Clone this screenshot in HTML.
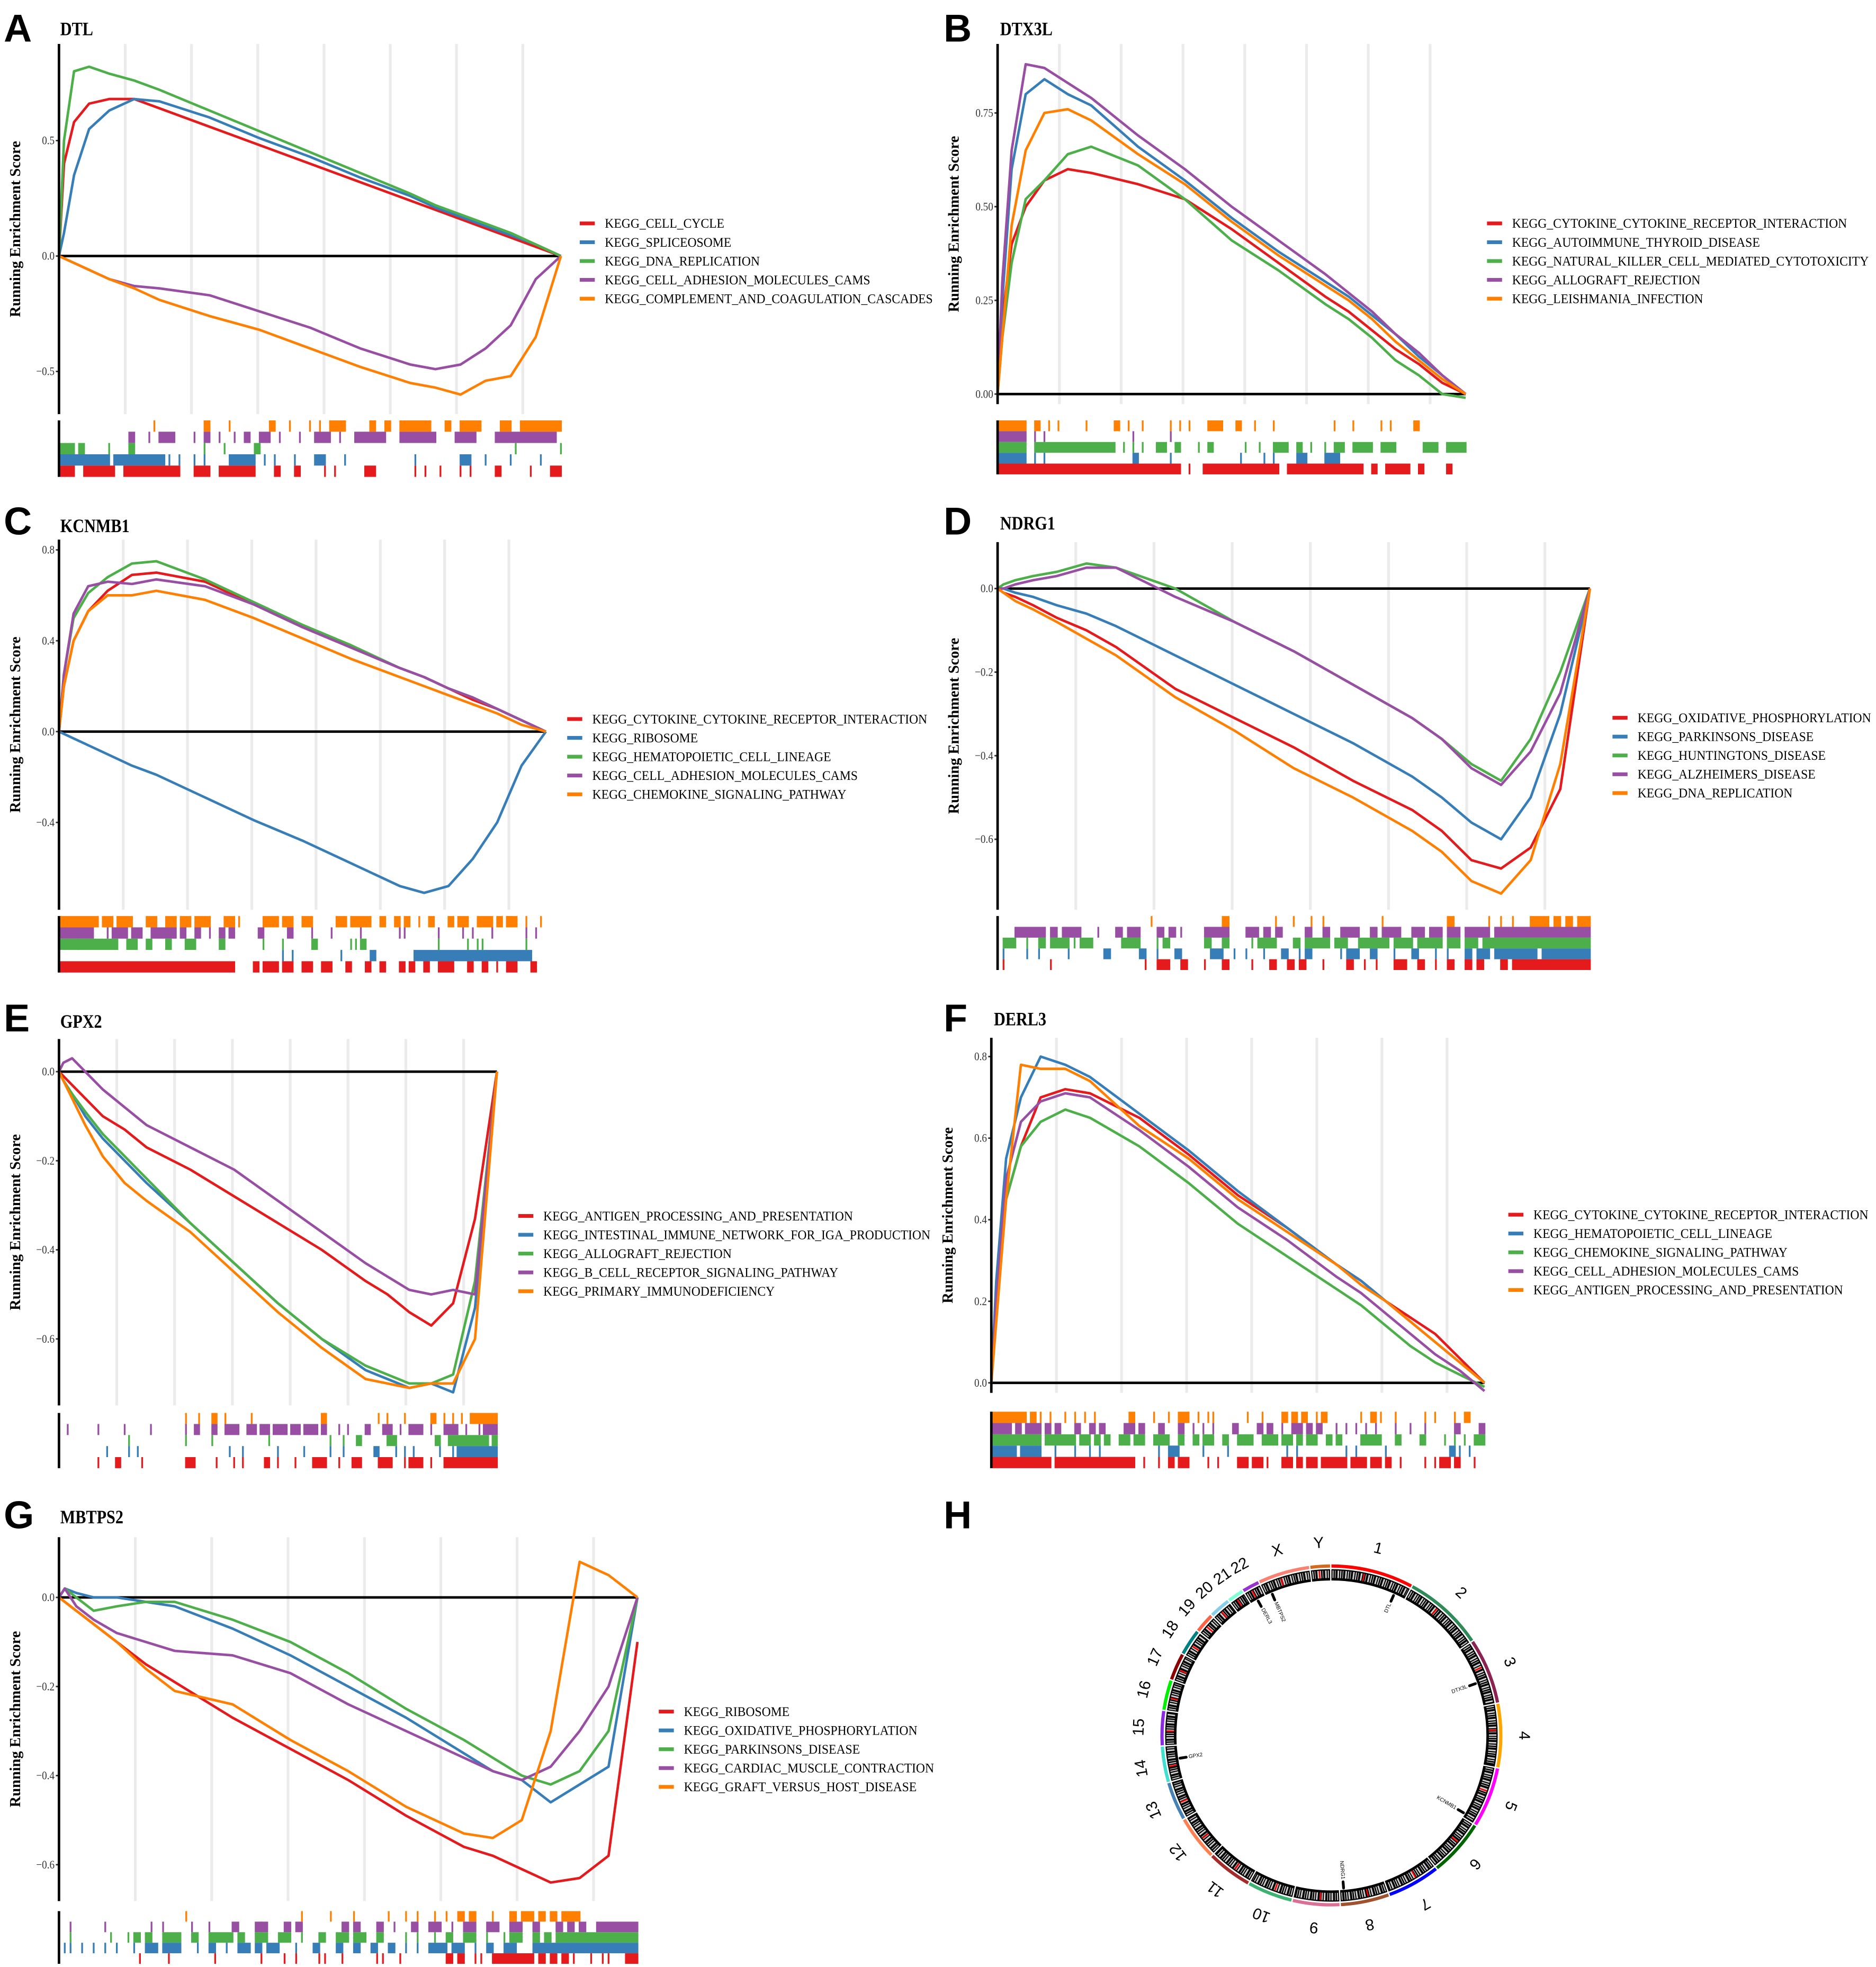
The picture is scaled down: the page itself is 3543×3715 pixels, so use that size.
<!DOCTYPE html>
<html><head><meta charset="utf-8"><title>GSEA panels</title>
<style>html,body{margin:0;padding:0;background:#fff}svg{display:block}</style></head>
<body>
<svg id="fig" xmlns="http://www.w3.org/2000/svg" width="3543" height="3715" viewBox="0 0 1495 1567.5">
<rect x="0" y="0" width="1495" height="1567.5" fill="#fff"/>
</svg>
<script>
const X_GRID=[0,.01,.03,.06,.1,.15,.2,.3,.4,.5,.6,.7,.75,.8,.85,.9,.95,1];
const COLORS=['#E41A1C','#377EB8','#4DAF4A','#984EA3','#FF7F00'];

// ---- Panel A: DTL
const A_names=['KEGG_CELL_CYCLE','KEGG_SPLICEOSOME','KEGG_DNA_REPLICATION','KEGG_CELL_ADHESION_MOLECULES_CAMS','KEGG_COMPLEMENT_AND_COAGULATION_CASCADES'];
const A_ticks=[0.5,0,-0.5];
const A_tickLabels=['0.5','0.0','\u22120.5'];
const A_red=[0,0.4,0.58,0.66,0.68,0.68,0.64,0.56,0.48,0.4,0.32,0.24,0.2,0.16,0.12,0.08,0.04,0];
const A_blue=[0,0.1,0.35,0.55,0.63,0.68,0.67,0.6,0.51,0.43,0.34,0.26,0.21,0.17,0.13,0.09,0.05,0];
const A_green=[0,0.5,0.8,0.82,0.79,0.76,0.72,0.63,0.54,0.45,0.36,0.27,0.22,0.18,0.14,0.1,0.05,0];
const A_purple=[0,-0.01,-0.03,-0.06,-0.1,-0.13,-0.14,-0.17,-0.24,-0.31,-0.4,-0.47,-0.49,-0.47,-0.4,-0.3,-0.1,0];
const A_orange=[0,-0.01,-0.03,-0.06,-0.1,-0.14,-0.19,-0.26,-0.32,-0.4,-0.48,-0.55,-0.57,-0.6,-0.54,-0.52,-0.35,0];
const A_rug_orange=[[19,19],[29,30],[34,34],[42,43],[46,46],[50,50],[52,52],[54,57],[62,63],[65,66],[68,74],[77,78],[80,84],[88,90],[92,100]];
const A_rug_purple=[[14,15],[18,18],[20,23],[27,27],[29,30],[32,32],[35,35],[37,38],[40,42],[44,44],[48,48],[51,54],[56,56],[59,65],[68,75],[79,83],[87,99]];
const A_rug_green=[[0,3],[4,5],[10,10],[14,15],[29,29],[33,33],[39,40],[91,91],[100,100]];
const A_rug_blue=[[0,10],[11,21],[22,22],[24,24],[27,27],[29,29],[34,39],[41,41],[43,43],[47,47],[51,53],[57,57],[71,71],[80,82],[85,85],[90,90],[96,96]];
const A_rug_red=[[0,3],[5,11],[13,24],[27,30],[32,39],[43,44],[47,48],[53,53],[55,55],[61,63],[71,71],[73,73],[76,76],[80,80],[82,82],[87,88],[94,94],[98,100]];

// ---- Panel B: DTX3L
const B_names=['KEGG_CYTOKINE_CYTOKINE_RECEPTOR_INTERACTION','KEGG_AUTOIMMUNE_THYROID_DISEASE','KEGG_NATURAL_KILLER_CELL_MEDIATED_CYTOTOXICITY','KEGG_ALLOGRAFT_REJECTION','KEGG_LEISHMANIA_INFECTION'];
const B_ticks=[0.75,0.5,0.25,0];
const B_tickLabels=['0.75','0.50','0.25','0.00'];
const B_red=[0,0.2,0.4,0.5,0.57,0.6,0.59,0.56,0.52,0.44,0.35,0.26,0.22,0.17,0.12,0.08,0.03,0];
const B_blue=[0,0.25,0.6,0.8,0.84,0.8,0.77,0.66,0.57,0.47,0.38,0.3,0.26,0.21,0.16,0.1,0.05,0];
const B_green=[0,0.15,0.35,0.52,0.57,0.64,0.66,0.61,0.52,0.41,0.33,0.24,0.2,0.15,0.09,0.05,0,-0.01];
const B_purple=[0,0.3,0.65,0.88,0.87,0.83,0.79,0.69,0.6,0.5,0.41,0.32,0.27,0.22,0.16,0.11,0.05,0];
const B_orange=[0,0.15,0.45,0.65,0.75,0.76,0.73,0.64,0.56,0.46,0.37,0.29,0.25,0.2,0.14,0.09,0.04,0];
const B_rug_orange=[[0,6],[8,9],[11,11],[13,13],[19,19],[25,26],[28,28],[31,31],[37,37],[39,39],[41,41],[45,48],[51,52],[55,55],[59,59],[72,72],[76,76],[82,82],[84,84],[89,90]];
const B_rug_purple=[[0,6],[8,8],[10,10],[29,29],[37,37]];
const B_rug_green=[[0,6],[8,25],[27,27],[29,29],[31,31],[34,36],[38,39],[43,43],[45,46],[53,53],[56,56],[59,62],[64,65],[67,67],[70,70],[72,74],[76,80],[82,85],[91,94],[96,100]];
const B_rug_blue=[[0,6],[8,8],[10,10],[29,30],[37,37],[52,52],[57,57],[59,59],[64,66],[70,73]];
const B_rug_red=[[0,39],[41,41],[44,60],[62,78],[80,81],[83,88],[90,91],[96,97]];

// ---- Panel C: KCNMB1
const C_names=['KEGG_CYTOKINE_CYTOKINE_RECEPTOR_INTERACTION','KEGG_RIBOSOME','KEGG_HEMATOPOIETIC_CELL_LINEAGE','KEGG_CELL_ADHESION_MOLECULES_CAMS','KEGG_CHEMOKINE_SIGNALING_PATHWAY'];
const C_ticks=[0.8,0.4,0,-0.4];
const C_tickLabels=['0.8','0.4','0.0','\u22120.4'];
const C_red=[0,0.2,0.4,0.53,0.62,0.69,0.7,0.66,0.56,0.46,0.37,0.28,0.24,0.19,0.14,0.1,0.05,0];
const C_blue=[0,-0.01,-0.03,-0.06,-0.1,-0.15,-0.19,-0.29,-0.39,-0.48,-0.58,-0.68,-0.71,-0.68,-0.56,-0.4,-0.15,0];
const C_green=[0,0.25,0.5,0.61,0.68,0.74,0.75,0.67,0.57,0.47,0.38,0.28,0.24,0.19,0.15,0.1,0.05,0];
const C_purple=[0,0.25,0.52,0.64,0.66,0.65,0.67,0.64,0.56,0.46,0.37,0.28,0.24,0.19,0.15,0.1,0.05,0];
const C_orange=[0,0.2,0.4,0.53,0.6,0.6,0.62,0.58,0.5,0.41,0.32,0.24,0.2,0.16,0.12,0.08,0.03,0];
const C_rug_orange=[[0,8],[9,11],[12,15],[18,20],[22,24],[25,27],[28,31],[34,36],[37,37],[42,45],[46,48],[50,52],[57,59],[60,64],[66,67],[69,70],[71,72],[74,74],[76,77],[80,81],[82,84],[86,89],[90,91],[92,94],[96,96],[99,99],[92,93]];
const C_rug_purple=[[0,7],[10,10],[11,14],[15,17],[19,24],[25,26],[28,29],[31,31],[33,34],[35,36],[41,42],[47,48],[52,52],[56,56],[62,62],[70,70],[71,71],[78,78],[83,83],[85,85],[89,89],[96,96],[98,98]];
const C_rug_green=[[0,4],[4,12],[14,16],[18,19],[22,23],[26,28],[33,34],[42,42],[46,46],[52,53],[60,60],[61,61],[62,63],[78,78],[84,84],[86,86],[87,87],[96,96]];
const C_rug_blue=[[46,46],[48,48],[58,58],[64,65],[73,97]];
const C_rug_red=[[0,36],[40,41],[42,45],[46,48],[50,52],[54,56],[59,60],[63,64],[66,67],[70,71],[72,73],[75,76],[78,81],[84,85],[87,88],[90,90],[92,94],[97,98]];

// ---- Panel D: NDRG1
const D_names=['KEGG_OXIDATIVE_PHOSPHORYLATION','KEGG_PARKINSONS_DISEASE','KEGG_HUNTINGTONS_DISEASE','KEGG_ALZHEIMERS_DISEASE','KEGG_DNA_REPLICATION'];
const D_ticks=[0,-0.2,-0.4,-0.6];
const D_tickLabels=['0.0','\u22120.2','\u22120.4','\u22120.6'];
const D_red=[0,-0.01,-0.02,-0.04,-0.07,-0.1,-0.14,-0.24,-0.31,-0.38,-0.46,-0.53,-0.58,-0.65,-0.67,-0.62,-0.48,0];
const D_blue=[0,0,-0.01,-0.02,-0.04,-0.06,-0.09,-0.16,-0.23,-0.3,-0.37,-0.45,-0.5,-0.56,-0.6,-0.5,-0.3,0];
const D_green=[0,0.01,0.02,0.03,0.04,0.06,0.05,0,-0.08,-0.15,-0.23,-0.31,-0.36,-0.42,-0.46,-0.36,-0.2,0];
const D_purple=[0,0,0.01,0.02,0.03,0.05,0.05,-0.02,-0.08,-0.15,-0.23,-0.31,-0.36,-0.43,-0.47,-0.39,-0.25,0];
const D_orange=[0,-0.01,-0.03,-0.05,-0.08,-0.12,-0.16,-0.26,-0.34,-0.43,-0.5,-0.58,-0.63,-0.7,-0.73,-0.65,-0.42,0];
const D_rug_orange=[[26,26],[38,39],[47,47],[50,50],[53,53],[55,55],[65,65],[76,77],[83,83],[85,85],[87,87],[90,93],[94,95],[96,97],[98,100]];
const D_rug_purple=[[0,0],[3,8],[9,10],[11,14],[17,17],[20,21],[22,24],[27,28],[29,30],[31,31],[35,39],[42,44],[45,46],[47,48],[52,53],[55,56],[58,61],[63,64],[65,68],[70,72],[73,75],[76,78],[79,83],[84,100]];
const D_rug_green=[[1,3],[5,5],[7,8],[9,12],[13,13],[14,16],[21,24],[27,27],[28,29],[35,36],[38,39],[43,43],[44,47],[50,51],[52,56],[57,59],[61,66],[67,70],[71,75],[76,78],[79,81],[82,100]];
const D_rug_blue=[[1,1],[5,5],[7,7],[12,12],[18,19],[24,25],[27,27],[30,31],[36,38],[40,40],[42,42],[45,45],[48,49],[51,51],[52,53],[58,58],[59,61],[63,64],[67,67],[70,71],[74,74],[76,76],[79,80],[81,83],[84,91],[92,100]];
const D_rug_red=[[1,1],[9,9],[25,25],[27,29],[31,32],[35,35],[38,39],[43,43],[46,47],[49,50],[51,52],[55,55],[59,60],[62,62],[64,64],[67,69],[71,72],[74,74],[76,77],[79,80],[81,82],[85,86],[87,100]];

// ---- Panel E: GPX2
const E_names=['KEGG_ANTIGEN_PROCESSING_AND_PRESENTATION','KEGG_INTESTINAL_IMMUNE_NETWORK_FOR_IGA_PRODUCTION','KEGG_ALLOGRAFT_REJECTION','KEGG_B_CELL_RECEPTOR_SIGNALING_PATHWAY','KEGG_PRIMARY_IMMUNODEFICIENCY'];
const E_ticks=[0,-0.2,-0.4,-0.6];
const E_tickLabels=['0.0','\u22120.2','\u22120.4','\u22120.6'];
const E_red=[0,-0.01,-0.03,-0.06,-0.1,-0.13,-0.17,-0.22,-0.28,-0.34,-0.4,-0.47,-0.5,-0.54,-0.57,-0.52,-0.33,0];
const E_blue=[0,-0.02,-0.05,-0.1,-0.15,-0.2,-0.25,-0.34,-0.43,-0.52,-0.6,-0.67,-0.69,-0.71,-0.7,-0.72,-0.53,0];
const E_green=[0,-0.02,-0.05,-0.09,-0.14,-0.19,-0.24,-0.34,-0.43,-0.52,-0.6,-0.66,-0.68,-0.7,-0.7,-0.68,-0.47,0];
const E_purple=[0,0.02,0.03,0,-0.04,-0.08,-0.12,-0.17,-0.22,-0.29,-0.36,-0.43,-0.46,-0.49,-0.5,-0.49,-0.5,0];
const E_orange=[0,-0.02,-0.06,-0.12,-0.19,-0.25,-0.29,-0.36,-0.45,-0.54,-0.62,-0.69,-0.7,-0.71,-0.7,-0.7,-0.6,0];
const E_rug_orange=[[29,29],[32,32],[35,36],[38,38],[44,44],[60,61],[73,73],[75,75],[79,79],[85,86],[88,88],[90,90],[92,92],[94,100]];
const E_rug_purple=[[2,2],[9,9],[15,15],[21,21],[29,29],[31,32],[35,36],[38,41],[43,45],[46,48],[49,52],[53,55],[56,59],[60,61],[64,64],[66,66],[70,71],[74,76],[78,78],[80,83],[85,85],[88,91],[93,93],[96,96],[97,100]];
const E_rug_green=[[16,16],[29,29],[35,35],[48,48],[62,62],[65,65],[68,69],[75,77],[86,87],[89,98],[99,100]];
const E_rug_blue=[[11,11],[16,16],[18,18],[39,39],[42,42],[50,50],[56,56],[62,62],[65,65],[72,73],[77,77],[79,79],[81,81],[87,87],[90,90],[91,100]];
const E_rug_red=[[9,9],[13,14],[19,19],[29,31],[36,36],[40,40],[42,42],[47,48],[50,50],[54,54],[58,61],[64,64],[67,69],[73,76],[79,79],[80,83],[85,85],[88,100]];

// ---- Panel F: DERL3
const F_names=['KEGG_CYTOKINE_CYTOKINE_RECEPTOR_INTERACTION','KEGG_HEMATOPOIETIC_CELL_LINEAGE','KEGG_CHEMOKINE_SIGNALING_PATHWAY','KEGG_CELL_ADHESION_MOLECULES_CAMS','KEGG_ANTIGEN_PROCESSING_AND_PRESENTATION'];
const F_ticks=[0.8,0.6,0.4,0.2,0];
const F_tickLabels=['0.8','0.6','0.4','0.2','0.0'];
const F_red=[0,0.2,0.45,0.58,0.7,0.72,0.71,0.65,0.56,0.46,0.38,0.29,0.25,0.2,0.16,0.12,0.06,0];
const F_blue=[0,0.25,0.55,0.7,0.8,0.78,0.75,0.66,0.57,0.47,0.38,0.29,0.25,0.2,0.15,0.1,0.05,0];
const F_green=[0,0.2,0.45,0.58,0.64,0.67,0.65,0.58,0.49,0.39,0.31,0.23,0.19,0.14,0.09,0.05,0.02,-0.01];
const F_purple=[0,0.2,0.5,0.64,0.69,0.71,0.7,0.62,0.53,0.43,0.35,0.26,0.22,0.17,0.12,0.07,0.03,-0.02];
const F_orange=[0,0.15,0.45,0.78,0.77,0.77,0.74,0.63,0.55,0.45,0.37,0.29,0.24,0.2,0.15,0.1,0.05,0];
const F_rug_orange=[[0,7],[8,9],[10,10],[12,12],[15,15],[17,17],[19,19],[21,21],[28,29],[33,33],[36,36],[38,40],[42,42],[44,44],[45,45],[52,52],[55,55],[59,60],[61,62],[63,64],[66,66],[67,68],[75,75],[77,78],[79,79],[82,82],[88,88],[90,90],[94,94],[96,97]];
const F_rug_purple=[[0,4],[5,6],[7,10],[11,12],[13,14],[17,18],[20,21],[22,23],[27,29],[30,31],[34,35],[38,39],[41,41],[43,43],[45,45],[49,50],[54,55],[56,57],[59,59],[61,63],[64,65],[66,67],[70,70],[72,72],[74,74],[76,76],[78,78],[82,82],[85,85],[88,88],[94,95],[99,100]];
const F_rug_green=[[0,10],[11,17],[18,20],[21,22],[23,24],[26,28],[29,31],[33,36],[38,39],[41,42],[43,45],[47,48],[50,53],[55,58],[59,61],[62,63],[64,66],[68,69],[70,71],[75,79],[82,83],[87,88],[92,92],[94,94],[96,96],[98,100]];
const F_rug_blue=[[0,5],[6,10],[13,13],[17,17],[20,20],[22,22],[34,34],[36,38],[43,43],[48,48],[60,60],[62,62],[72,72],[74,74],[80,80],[93,94],[95,95],[97,97]];
const F_rug_red=[[0,12],[13,29],[31,31],[34,34],[36,37],[38,40],[44,44],[46,46],[50,52],[53,55],[56,56],[59,61],[62,63],[64,66],[67,72],[73,76],[77,79],[80,81],[83,83],[88,88],[90,90],[91,93],[94,95],[98,98]];

// ---- Panel G: MBTPS2
const G_names=['KEGG_RIBOSOME','KEGG_OXIDATIVE_PHOSPHORYLATION','KEGG_PARKINSONS_DISEASE','KEGG_CARDIAC_MUSCLE_CONTRACTION','KEGG_GRAFT_VERSUS_HOST_DISEASE'];
const G_ticks=[0,-0.2,-0.4,-0.6];
const G_tickLabels=['0.0','\u22120.2','\u22120.4','\u22120.6'];
const G_red=[0,-0.01,-0.03,-0.06,-0.1,-0.15,-0.19,-0.27,-0.34,-0.41,-0.49,-0.56,-0.58,-0.61,-0.64,-0.63,-0.58,-0.1];
const G_blue=[0,0.02,0.01,0,0,-0.01,-0.02,-0.07,-0.13,-0.2,-0.27,-0.35,-0.39,-0.41,-0.46,-0.42,-0.38,0];
const G_green=[0,0.02,0,-0.03,-0.02,-0.01,-0.01,-0.05,-0.1,-0.17,-0.25,-0.32,-0.36,-0.4,-0.42,-0.39,-0.3,0];
const G_purple=[0,0.02,-0.02,-0.05,-0.08,-0.1,-0.12,-0.13,-0.17,-0.24,-0.3,-0.36,-0.39,-0.41,-0.38,-0.3,-0.2,0];
const G_orange=[0,-0.01,-0.03,-0.06,-0.1,-0.16,-0.21,-0.24,-0.32,-0.39,-0.47,-0.53,-0.54,-0.5,-0.3,0.08,0.05,0];
const G_rug_orange=[[22,22],[42,42],[47,47],[51,51],[57,57],[60,60],[62,62],[65,65],[67,67],[69,70],[71,72],[75,75],[78,79],[80,82],[83,84],[85,86],[87,90]];
const G_rug_purple=[[2,2],[8,8],[16,16],[18,18],[23,23],[26,26],[30,31],[34,35],[35,36],[39,40],[41,42],[49,50],[51,52],[55,56],[58,58],[61,62],[64,66],[68,68],[70,72],[74,76],[78,80],[82,83],[86,87],[88,89],[90,91],[93,100]];
const G_rug_green=[[0,0],[2,2],[9,9],[12,12],[13,14],[15,16],[18,21],[23,24],[26,30],[31,32],[34,36],[38,40],[42,42],[45,46],[48,50],[51,53],[55,56],[60,60],[62,62],[65,65],[67,68],[70,72],[74,74],[77,77],[78,80],[82,83],[84,85],[86,100]];
const G_rug_blue=[[1,1],[2,2],[4,4],[6,6],[8,8],[10,10],[13,13],[15,17],[18,21],[24,24],[26,27],[29,29],[31,33],[34,35],[36,38],[41,41],[44,45],[48,49],[51,52],[54,55],[57,58],[60,60],[62,62],[64,67],[68,70],[72,72],[74,75],[77,79],[82,100]];
const G_rug_red=[[14,14],[19,19],[27,27],[35,35],[39,39],[41,41],[45,45],[46,46],[49,49],[55,55],[56,56],[59,59],[67,68],[69,70],[72,72],[73,73],[75,82],[83,84],[85,86],[87,88],[89,89],[92,92],[94,94],[95,95],[98,100]];

// ---- Panel H: circos ideogram
const CHR_NAMES=['1','2','3','4','5','6','7','8','9','10','11','12','13','14','15','16','17','18','19','20','21','22','X','Y'];
const CHR_LENGTHS=[249,243,198,191,181,171,159,146,141,136,135,134,115,107,103,90,81,78,59,63,48,51,155,59];
const CHR_COLORS=['#ff0000','#2e8b57','#8b2252','#ffa500','#ff00ff','#006400','#0000ff','#a0522d','#db7093','#3cb371','#a52a2a','#ff7f50','#4682b4','#40e0d0','#8a2be2','#00ee00','#8b0000','#008080','#ff6347','#87ceeb','#7fffd4','#9932cc','#fa8072','#d2691e'];
const GENE_NAMES=['DTL','DTX3L','KCNMB1','NDRG1','GPX2','DERL3','MBTPS2'];
const GENE_CHR=['1','3','5','8','14','22','X'];
const GENE_POS=[212,122,169,134,65,24,21];

const NS='http://www.w3.org/2000/svg';
const svg=document.getElementById('fig');
function mk(tag,attrs,parent){const e=document.createElementNS(NS,tag);for(const k in attrs)e.setAttribute(k,attrs[k]);(parent||svg).appendChild(e);return e;}

const PANELS=[
 {id:'A',title:'DTL',lx:3,ly:33,tx:48,ty:28,x0:47,x1:447,top:35,bot:330,zero:204,unit:184,rt:335,rb:380,legx:462,legy:178,
  names:A_names,ticks:A_ticks,tl:A_tickLabels,series:[A_red,A_blue,A_green,A_purple,A_orange],rugs:[A_rug_red,A_rug_blue,A_rug_green,A_rug_purple,A_rug_orange]},
 {id:'B',title:'DTX3L',lx:752,ly:33,tx:797,ty:28,x0:795,x1:1168,top:35,bot:322,zero:314,unit:298.7,rt:335,rb:378,legx:1185,legy:178,
  names:B_names,ticks:B_ticks,tl:B_tickLabels,series:[B_red,B_blue,B_green,B_purple,B_orange],rugs:[B_rug_red,B_rug_blue,B_rug_green,B_rug_purple,B_rug_orange]},
 {id:'C',title:'KCNMB1',lx:3,ly:426,tx:48,ty:424,x0:47,x1:435,top:430,bot:725,zero:583,unit:181,rt:730,rb:775,legx:452,legy:573,
  names:C_names,ticks:C_ticks,tl:C_tickLabels,series:[C_red,C_blue,C_green,C_purple,C_orange],rugs:[C_rug_red,C_rug_blue,C_rug_green,C_rug_purple,C_rug_orange]},
 {id:'D',title:'NDRG1',lx:752,ly:426,tx:797,ty:422,x0:795,x1:1267,top:432,bot:725,zero:469,unit:333,rt:730,rb:773,legx:1285,legy:572,
  names:D_names,ticks:D_ticks,tl:D_tickLabels,series:[D_red,D_blue,D_green,D_purple,D_orange],rugs:[D_rug_red,D_rug_blue,D_rug_green,D_rug_purple,D_rug_orange]},
 {id:'E',title:'GPX2',lx:3,ly:822,tx:48,ty:819,x0:47,x1:396,top:828,bot:1120,zero:854,unit:355,rt:1126,rb:1170,legx:413,legy:969,
  names:E_names,ticks:E_ticks,tl:E_tickLabels,series:[E_red,E_blue,E_green,E_purple,E_orange],rugs:[E_rug_red,E_rug_blue,E_rug_green,E_rug_purple,E_rug_orange]},
 {id:'F',title:'DERL3',lx:752,ly:822,tx:792,ty:817,x0:790,x1:1183,top:827,bot:1110,zero:1102,unit:325,rt:1125,rb:1170,legx:1202,legy:968,
  names:F_names,ticks:F_ticks,tl:F_tickLabels,series:[F_red,F_blue,F_green,F_purple,F_orange],rugs:[F_rug_red,F_rug_blue,F_rug_green,F_rug_purple,F_rug_orange]},
 {id:'G',title:'MBTPS2',lx:3,ly:1218,tx:48,ty:1214,x0:47,x1:508,top:1225,bot:1515,zero:1273,unit:355,rt:1523,rb:1565,legx:525,legy:1364,
  names:G_names,ticks:G_ticks,tl:G_tickLabels,series:[G_red,G_blue,G_green,G_purple,G_orange],rugs:[G_rug_red,G_rug_blue,G_rug_green,G_rug_purple,G_rug_orange]}
];
const SERIES_KEYS=['red','blue','green','purple','orange'];

function drawPanel(p){
  const g=mk('g',{});
  
  
  const sx=f=>p.x0+f*(p.x1-p.x0);
  const sy=v=>p.zero-v*p.unit;
  const letter=mk('text',{x:p.lx,y:p.ly,'font-family':'Liberation Sans, sans-serif','font-weight':'bold','font-size':31,fill:'#000'},g);
  letter.textContent=p.id;
  
  
  const tg=mk('g',{transform:`translate(${p.tx},${p.ty}) scale(0.85,1)`},g);
  const title=mk('text',{x:0,y:0,'font-family':'Liberation Serif, serif','font-weight':'bold','font-size':15,fill:'#000'},tg);
  title.textContent=p.title;
  
  
  for(let k=1;k<=7;k++){
    const x=sx(k*0.132);
    if(x>p.x1)continue;
    const gl=mk('line',{x1:x,x2:x,y1:p.top,y2:p.bot,stroke:'#ebebeb','stroke-width':2.2},g);
    
    
  }
  const ym=(p.top+p.bot)/2;
  const yl=mk('text',{x:0,y:0,transform:`translate(${p.x0-31},${ym}) rotate(-90)`,'text-anchor':'middle','font-family':'Liberation Serif, serif','font-weight':'bold','font-size':12,fill:'#000'},g);
  yl.textContent='Running Enrichment Score';
  
  
  p.ticks.forEach((t,i)=>{
    const y=sy(t);
    mk('line',{x1:p.x0-2.5,x2:p.x0,y1:y,y2:y,stroke:'#333','stroke-width':1.2},g);
    const tgx=mk('g',{transform:`translate(${p.x0-3.5},${y+3}) scale(0.85,1)`},g);
    const tl=mk('text',{x:0,y:0,'text-anchor':'end','font-family':'Liberation Serif, serif','font-size':9.5,fill:'#333'},tgx);
    tl.textContent=p.tl[i];
    
    
  });
  const zl=mk('line',{x1:p.x0,x2:p.x1,y1:sy(0),y2:sy(0),stroke:'#000','stroke-width':2},g);
  
  
  p.series.forEach((vals,si)=>{
    const pts=vals.map((v,i)=>sx(X_GRID[i]).toFixed(2)+','+sy(v).toFixed(2)).join(' ');
    const pl=mk('polyline',{points:pts,fill:'none',stroke:COLORS[si],'stroke-width':2,'stroke-linejoin':'round'},g);
    
    
  });
  const ax=mk('line',{x1:p.x0,x2:p.x0,y1:p.top,y2:p.bot,stroke:'#000','stroke-width':2},g);
  
  
  const rowH=(p.rb-p.rt)/5;
  const rowOrder=[4,3,2,1,0];
  rowOrder.forEach((si,row)=>{
    const rg=mk('g',{},g);
    
    
    p.rugs[si].forEach(r=>{
      const xa=sx(r[0]/100)-0.7, xb=sx(r[1]/100)+0.7;
      mk('rect',{x:xa.toFixed(2),y:(p.rt+row*rowH).toFixed(2),width:(xb-xa).toFixed(2),height:rowH.toFixed(2),fill:COLORS[si]},rg);
    });
  });
  const rax=mk('line',{x1:p.x0,x2:p.x0,y1:p.rt,y2:p.rb,stroke:'#000','stroke-width':2},g);
  
  
  p.names.forEach((n,i)=>{
    const y=p.legy+i*15;
    const lg=mk('g',{},g);
    
    
    mk('rect',{x:p.legx,y:y-1.5,width:12,height:3,fill:COLORS[i]},lg);
    const tgl=mk('g',{transform:`translate(${p.legx+20},${y+3.5}) scale(0.95,1)`},lg);
    const t=mk('text',{x:0,y:0,'font-family':'Liberation Serif, serif','font-size':10.5,fill:'#000'},tgl);
    t.textContent=n;
  });
}
PANELS.forEach(drawPanel);

(function(){
  const g=mk('g',{});
  
  
  const L=mk('text',{x:752,y:1218,'font-family':'Liberation Sans, sans-serif','font-weight':'bold','font-size':31,fill:'#000'},g);
  L.textContent='H';
  
  
  const cx=1061,cy=1383;
  const gap=0.45;
  const total=CHR_LENGTHS.reduce((a,b)=>a+b,0);
  const degPer=(360-gap*CHR_LENGTHS.length)/total;
  const pol=(r,a)=>{const t=(a-90)*Math.PI/180;return [cx+r*Math.cos(t),cy+r*Math.sin(t)];};
  const arc=(r,a0,a1)=>{const p0=pol(r,a0),p1=pol(r,a1);return `M${p0[0].toFixed(2)},${p0[1].toFixed(2)} A${r},${r} 0 ${a1-a0>180?1:0} 1 ${p1[0].toFixed(2)},${p1[1].toFixed(2)}`;};
  let a=0; const starts={};
  CHR_LENGTHS.forEach((len,i)=>{
    const a0=a,a1=a+len*degPer;
    starts[CHR_NAMES[i]]=a0;
    const cg=mk('g',{},g);
    
    
    mk('path',{d:arc(135,a0,a1),fill:'none',stroke:CHR_COLORS[i],'stroke-width':2.6},cg);
    mk('path',{d:arc(128,a0,a1),fill:'none',stroke:'#000','stroke-width':9},cg);
    mk('path',{d:arc(128.5,a0+0.4,a1-0.4),fill:'none',stroke:'#d0d0d0','stroke-width':6,'stroke-dasharray':'0.8 1.1 0.5 1.6 1.2 0.9'},cg);
    const cen=a0+(a1-a0)*0.4;
    mk('path',{d:arc(128.5,cen,cen+0.5),fill:'none',stroke:'#ff0000','stroke-width':6},cg);
    const mid=(a0+a1)/2;
    const lp=pol(153,mid);
    const t=mk('text',{x:lp[0].toFixed(2),y:lp[1].toFixed(2),transform:`rotate(${mid.toFixed(2)},${lp[0].toFixed(2)},${lp[1].toFixed(2)})`,'text-anchor':'middle','dominant-baseline':'middle','font-family':'Liberation Sans, sans-serif','font-size':12.5,fill:'#000'},cg);
    t.textContent=CHR_NAMES[i];
    a=a1+gap;
  });
  GENE_NAMES.forEach((n,i)=>{
    const ang=starts[GENE_CHR[i]]+GENE_POS[i]*degPer;
    const p0=pol(117,ang),p1=pol(122,ang);
    const gg=mk('g',{},g);
    
    
    mk('line',{x1:p0[0],y1:p0[1],x2:p1[0],y2:p1[1],stroke:'#000','stroke-width':2.2,'stroke-linecap':'round'},gg);
    const lp=pol(115,ang);
    const right=(ang%360)>180;
    const rot=right?ang+90:ang-90;
    const t=mk('text',{x:lp[0].toFixed(2),y:lp[1].toFixed(2),transform:`rotate(${rot.toFixed(2)},${lp[0].toFixed(2)},${lp[1].toFixed(2)})`,'text-anchor':right?'start':'end','dominant-baseline':'middle','font-family':'Liberation Sans, sans-serif','font-size':4.2,fill:'#000'},gg);
    t.textContent=n;
  });
})();
</script>
</body></html>
